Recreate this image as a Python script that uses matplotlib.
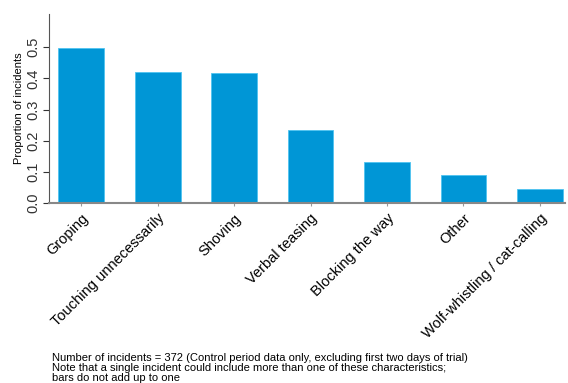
import numpy as np
import matplotlib.pyplot as plt

# Incident characteristics, proportion of incidents with each one
categories = ['Groping', 'Touching unnecessarily', 'Shoving', 'Verbal teasing',
              'Blocking the way', 'Other', 'Wolf-whistling / cat-calling']
proportions = [0.497, 0.420, 0.417, 0.234, 0.131, 0.090, 0.045]
y_ticks = [0.0, 0.1, 0.2, 0.3, 0.4, 0.5]

fig = plt.figure(figsize=(5.68, 3.83), dpi=100)
ax = fig.add_axes([0.0863, 0.47, 0.9087, 0.493])

x = np.arange(len(categories))
ax.bar(x, proportions, width=0.6, color='#0096d6', edgecolor='#4fc3f0', linewidth=0.6)

ax.set_xlim(-0.42, 6.33)
ax.set_ylim(0, 0.606)
ax.set_yticks(y_ticks)
ax.set_yticklabels([f'{v:.1f}' for v in y_ticks], rotation=90, va='center',
                   fontsize=10.5, color='#333333', family='Liberation Sans')
ax.set_xticks(x)
ax.set_xticklabels(categories, rotation=45, ha='right', rotation_mode='anchor',
                   fontsize=10.5, family='Liberation Sans')
ax.tick_params(axis='x', length=2, color='#999999', pad=4)
ax.tick_params(axis='y', length=4, color='#333333', pad=2)
ax.set_ylabel('Proportion of incidents', fontsize=8, family='Liberation Sans', labelpad=2)

for side in ['top', 'right']:
    ax.spines[side].set_visible(False)
ax.spines['left'].set_color('#555555')
ax.spines['bottom'].set_color('#888888')
ax.spines['bottom'].set_linewidth(1.5)

fig.text(0.092, 0.0, 'Number of incidents = 372 (Control period data only, excluding first two days of trial)\n'
         'Note that a single incident could include more than one of these characteristics;\n'
         'bars do not add up to one',
         fontsize=8, family='Liberation Sans', va='bottom', linespacing=1.0)

plt.savefig('out.png', dpi=100)
